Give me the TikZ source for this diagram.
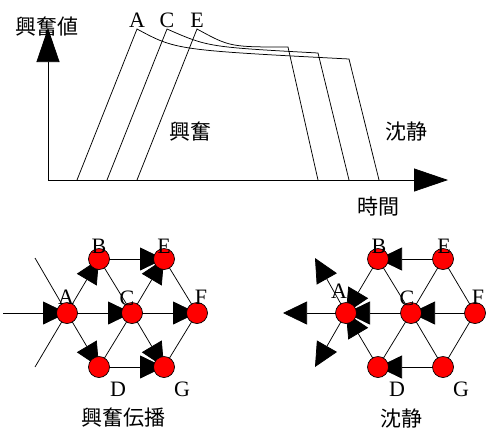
\documentclass[tikz,border=0pt]{standalone}
\usepackage{fontspec}
\setmainfont{Liberation Serif}
\newfontfamily\cjk{Noto Sans CJK JP}
\usetikzlibrary{arrows.meta}
\tikzset{
  x=1pt, y=-1pt,
  ln/.style={line width=0.75pt, black},
  arr/.style={ln, -{Triangle[length=24pt,width=23pt]}},
  axisarr/.style={ln, -{Triangle[length=34pt,width=23pt]}},
  dot/.style={circle, draw=black, fill=red, line width=0.7pt, minimum size=21pt, inner sep=0pt},
  lbl/.style={font=\fontsize{22}{24}\selectfont, inner sep=0pt},
  jlbl/.style={font=\cjk\fontsize{21}{24}\selectfont, inner sep=0pt},
}
\begin{document}
\begin{tikzpicture}
\useasboundingbox (0,0) rectangle (486,432);
% ---------- top graph ----------
\coordinate (o) at (48,180);
\coordinate (ytip) at (48,28);
\coordinate (xtip) at (448,180);
\draw[axisarr] (o) -- (ytip);
\draw[axisarr] (o) -- (xtip);
\coordinate (a0) at (77,180); \coordinate (a1) at (137,29); \coordinate (a2) at (349,59); \coordinate (a3) at (379,180);
\coordinate (c0) at (107,180); \coordinate (c1) at (167,29); \coordinate (c2) at (318,53); \coordinate (c3) at (349,180);
\coordinate (e0) at (137,180); \coordinate (e1) at (197,29); \coordinate (e2) at (288,47); \coordinate (e3) at (318,180);
\draw[ln] (a0) -- (a1) .. controls (176,50) .. (a2) -- (a3);
\draw[ln] (c0) -- (c1) .. controls (208,47) .. (c2) -- (c3);
\draw[ln] (e0) -- (e1) .. controls (230,47) .. (e2) -- (e3);
\node[jlbl] (tval) at (47,27) {興奮値};
\node[lbl] (tA) at (137,20) {A};
\node[lbl] (tC) at (167,20) {C};
\node[lbl] (tE) at (197,20) {E};
\node[jlbl] (texc) at (190,132) {興奮};
\node[jlbl] (trest) at (406,132) {沈静};
\node[jlbl] (ttime) at (378,207) {時間};
% ---------- bottom left: propagation ----------
\coordinate (pA) at (67,313); \coordinate (pB) at (99,259); \coordinate (pC) at (132,313);
\coordinate (pD) at (99,367); \coordinate (pE) at (164,259); \coordinate (pF) at (197,313);
\coordinate (pG) at (164,367);
\coordinate (pL1) at (3,313); \coordinate (pL2) at (35,258); \coordinate (pL3) at (35,367);
\draw[arr] (pL1) -- (pA);
\draw[ln] (pL2) -- (pA);
\draw[ln] (pL3) -- (pA);
\draw[arr] (pA) -- (pB);
\draw[arr] (pA) -- (pC);
\draw[arr] (pA) -- (pD);
\draw[arr] (pB) -- (pE);
\draw[arr] (pC) -- (pE);
\draw[arr] (pC) -- (pF);
\draw[arr] (pC) -- (pG);
\draw[arr] (pD) -- (pG);
\draw[ln] (pB) -- (pC);
\draw[ln] (pC) -- (pD);
\draw[ln] (pE) -- (pF);
\draw[ln] (pF) -- (pG);
\foreach \n in {A,B,C,D,E,F,G} { \node[dot] (npr\n) at (p\n) {}; }
\node[lbl] (lA1) at (66,297) {A};
\node[lbl] (lB1) at (99,246) {B};
\node[lbl] (lC1) at (127,298) {C};
\node[lbl] (lD1) at (118,389) {D};
\node[lbl] (lE1) at (164,246) {E};
\node[lbl] (lF1) at (201,297) {F};
\node[lbl] (lG1) at (182,389) {G};
\node[jlbl] (tprop) at (123,418) {興奮伝播};
% ---------- bottom right: rest ----------
\coordinate (qA) at (346,313); \coordinate (qB) at (378,259); \coordinate (qC) at (411,313);
\coordinate (qD) at (378,367); \coordinate (qE) at (443,259); \coordinate (qF) at (475,313);
\coordinate (qG) at (443,367);
\coordinate (qL1) at (283,313); \coordinate (qL2) at (315,258); \coordinate (qL3) at (315,367);
\draw[arr] (qA) -- (qL1);
\draw[arr] (qA) -- (qL2);
\draw[arr] (qA) -- (qL3);
\draw[arr] (qC) -- (qA);
\draw[arr] (qB) -- (qA);
\draw[arr] (qD) -- (qA);
\draw[arr] (qE) -- (qB);
\draw[arr] (qF) -- (qC);
\draw[arr] (qG) -- (qD);
\draw[ln] (qB) -- (qC);
\draw[ln] (qC) -- (qE);
\draw[ln] (qC) -- (qD);
\draw[ln] (qC) -- (qG);
\draw[ln] (qE) -- (qF);
\draw[ln] (qF) -- (qG);
\foreach \n in {A,B,C,D,E,F,G} { \node[dot] (nrs\n) at (q\n) {}; }
\node[lbl] (lA2) at (339,291) {A};
\node[lbl] (lB2) at (379,246) {B};
\node[lbl] (lC2) at (407,298) {C};
\node[lbl] (lD2) at (397,389) {D};
\node[lbl] (lE2) at (444,246) {E};
\node[lbl] (lF2) at (478,297) {F};
\node[lbl] (lG2) at (461,389) {G};
\node[jlbl] (trest2) at (401,418) {沈静};
\end{tikzpicture}
\end{document}
